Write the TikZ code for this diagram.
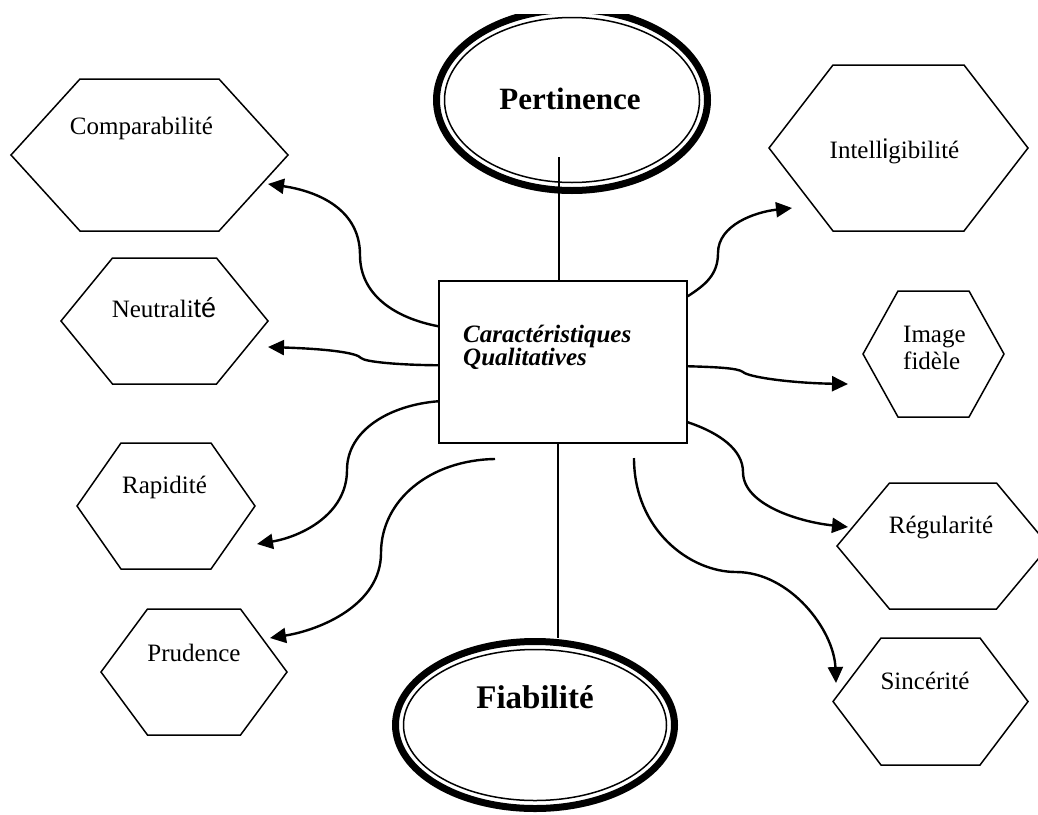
\documentclass[tikz,border=0pt]{standalone}
\usepackage{fontspec}
\setmainfont{Liberation Serif}
\newfontfamily\arialf{Liberation Sans}
\usetikzlibrary{arrows.meta,shapes.geometric,calc}
\newcommand\hexa[6]{%
  \coordinate (#1) at (#2,#3);
  \draw[hexline] (#2-#4,#3) -- (#2-#5,#3-#6) -- (#2+#5,#3-#6) -- (#2+#4,#3) -- (#2+#5,#3+#6) -- (#2-#5,#3+#6) -- cycle;}
\begin{document}
\begin{tikzpicture}[x=1pt,y=-1pt,
  hexline/.style={line width=1.5pt},
  arr/.style={line width=2.4pt,-{Triangle[length=16pt,width=15pt]}},
  lab/.style={font=\fontsize{25}{25}\selectfont, inner sep=0, anchor=base},
  thin/.style={line width=1.5pt},
  dbl/.style={ellipse, draw, inner sep=0},
]
\useasboundingbox (0,0) rectangle (1038,814);

% hexagons
\hexa{hcomp}{149.5}{155}{138.5}{69.5}{76}
\hexa{hneut}{164.5}{321}{103.5}{52}{63}
\hexa{hrapi}{166}{506}{89}{45}{63}
\hexa{hprud}{194}{672}{93}{46.5}{63}
\hexa{hintel}{898.5}{148}{129.5}{65.5}{83}
\hexa{himg}{933.5}{354}{70.5}{35.5}{63}
\hexa{hregu}{943}{546}{106}{53.5}{63}
\hexa{hsinc}{930.5}{701.5}{97.5}{49.5}{63.5}

\node[lab] (tcomp) at (141.5,134) {Comparabilité};
\node[lab] (tneut) at (164,317) {Neutrali{\arialf\fontsize{27}{27}\selectfont té}};
\node[lab] (trapi) at (164.5,493) {Rapidité};
\node[lab] (tprud) at (194,661) {Prudence};
\node[lab] (tintel) at (894.5,158) {Intell{\arialf\fontsize{27}{27}\selectfont i}gibilité};
\node[lab,anchor=base west] (timg1) at (903,342) {Image};
\node[lab,anchor=base west] (timg2) at (903,369) {fidèle};
\node[lab] (tregu) at (941,533) {Régularité};
\node[lab] (tsinc) at (925,689) {Sincérité};

% ellipses
\begin{scope}
  \clip (0,14) rectangle (1038,814);
  \node[dbl, line width=7pt, minimum width=271pt, minimum height=181pt] (pert) at (572,100) {};
  \node[dbl, line width=1.5pt, minimum width=255pt, minimum height=165pt] (pertin) at (pert.center) {};
\end{scope}
\node[font=\bfseries\fontsize{31}{31}\selectfont, anchor=base, inner sep=0] (pertt) at (570,109) {Pertinence};

\node[dbl, line width=7pt, minimum width=279pt, minimum height=167pt] (fiab) at (535,725) {};
\node[dbl, line width=1.5pt, minimum width=263pt, minimum height=151pt] (fiabin) at (fiab.center) {};
\node[font=\bfseries\fontsize{33}{33}\selectfont, anchor=base, inner sep=0] (fiabt) at (535,708) {Fiabilité};

% central box
\node[draw, thin, minimum width=248pt, minimum height=162pt, inner sep=0] (box) at (563,362) {};
\node[font=\bfseries\itshape\fontsize{25}{25}\selectfont, anchor=base west, inner sep=0] (bt1) at (463,342) {Caractéristiques};
\node[font=\bfseries\itshape\fontsize{25}{25}\selectfont, anchor=base west, inner sep=0] (bt2) at (463,365) {Qualitatives};

% vertical lines
\coordinate (p1) at (559,157);
\draw[thin] (p1) -- (p1 |- box.north);
\coordinate (q1) at (558,0);
\draw[thin] (box.south -| q1) -- (q1 |- fiab.north);

% arrow tips and free starts
\coordinate (t1) at (268,184);
\coordinate (t2) at (268,347);
\coordinate (t3) at (257,544);
\coordinate (t4) at (270,638);
\coordinate (t5) at (792,208);
\coordinate (t6) at (848,384);
\coordinate (t7) at (848,527);
\coordinate (t8) at (836,683);
\coordinate (s4) at (495,459);
\coordinate (s8) at (634,458);

\draw[arr] ([yshift=-46pt]box.north west) .. controls (395,318) and (360,295) .. (360,255) .. controls (360,205) and (310,190) .. (t1);
\draw[arr] ([yshift=-85pt]box.north west) .. controls (400,365) and (365,362) .. (361,358) .. controls (357,353) and (330,349) .. (t2);
\draw[arr] ([yshift=-121pt]box.north west) .. controls (390,405) and (347,430) .. (347,470) .. controls (347,515) and (300,537) .. (t3);
\draw[arr] (s4) .. controls (430,460) and (381,500) .. (381,553) .. controls (381,605) and (320,630) .. (t4);
\draw[arr] ([yshift=-16pt]box.north east) .. controls (705,285) and (718,275) .. (718,253) .. controls (718,225) and (755,212) .. (t5);
\draw[arr] ([yshift=-86pt]box.north east) .. controls (715,367) and (738,368) .. (743,372) .. controls (748,377) and (790,383) .. (t6);
\draw[arr] ([yshift=-142pt]box.north east) .. controls (720,433) and (743,450) .. (743,472) .. controls (743,505) and (800,522) .. (t7);
\draw[arr] (s8) .. controls (634,530) and (690,572) .. (736,572) .. controls (790,572) and (834,630) .. (t8);
\end{tikzpicture}
\end{document}
